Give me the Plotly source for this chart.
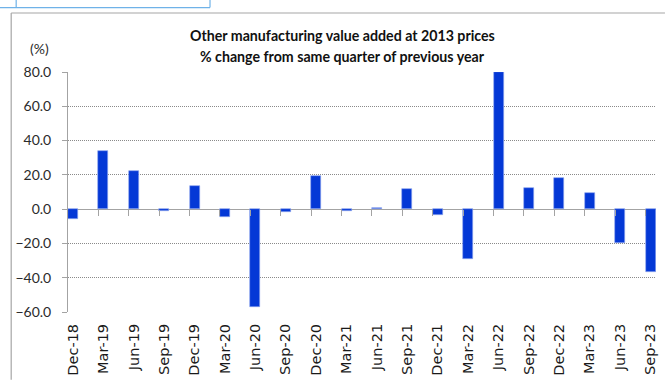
import plotly.graph_objects as go

# Quarterly growth of other manufacturing value added (2013 prices), % y/y
quarters = ["Dec-18", "Mar-19", "Jun-19", "Sep-19", "Dec-19", "Mar-20", "Jun-20",
            "Sep-20", "Dec-20", "Mar-21", "Jun-21", "Sep-21", "Dec-21", "Mar-22",
            "Jun-22", "Sep-22", "Dec-22", "Mar-23", "Jun-23", "Sep-23"]
pct_change = [-5.8, 34.0, 22.3, -1.0, 13.6, -4.8, -57.3, -1.5, 19.5, -1.1,
              0.4, 11.6, -3.4, -28.8, 80.0, 12.4, 18.3, 9.6, -19.7, -36.8]
y_ticks = [-60, -40, -20, 0, 20, 40, 60, 80]

W, H = 665, 383
L, R, T, B = 68, 7, 72, 67
PW, PH = W - L - R, H - T - B
SLOT = 30.5          # pixels per quarter
BAR_W = 0.33         # bar width in category units
x0 = -BAR_W / 2
x_range = [x0, x0 + PW / SLOT]
y_range = [-60, 80]


def px(x):
    return (x - L) / PW


def py(y):
    return (H - B - y) / PH


idx = list(range(len(quarters)))
BLUE = "#0438d6"
AXIS_GREY = "#a3a3a3"

fig = go.Figure()
fig.add_trace(go.Bar(
    x=idx, y=pct_change, width=BAR_W,
    marker=dict(color=BLUE, line=dict(color="#8fa6ee", width=0.6)),
    showlegend=False, hoverinfo="skip",
))
# carrier for the category tick marks drawn along the zero line
fig.add_trace(go.Scatter(x=[], y=[], xaxis="x2", yaxis="y", showlegend=False))

fig.update_layout(
    width=W, height=H,
    margin=dict(l=L, r=R, t=T, b=B, pad=0),
    paper_bgcolor="white", plot_bgcolor="white",
    bargap=0,
    xaxis=dict(
        range=x_range, tickmode="array", tickvals=idx, ticktext=quarters,
        tickangle=-90, ticks="", showgrid=False, zeroline=False, showline=False,
        tickfont=dict(family="DejaVu Sans", size=14.5, color="#1a1a1a"),
        ticklabelstandoff=8,
    ),
    xaxis2=dict(
        overlaying="x", anchor="free",
        position=(0 - y_range[0]) / (y_range[1] - y_range[0]),
        range=x_range, tickmode="array",
        tickvals=[i + x0 for i in idx[1:]],
        ticks="outside", ticklen=6, tickwidth=1, tickcolor=AXIS_GREY,
        showticklabels=False, showgrid=False, zeroline=False, showline=False,
    ),
    yaxis=dict(
        range=y_range, tickmode="array", tickvals=y_ticks, tickformat=".1f",
        showgrid=True, gridcolor="#8a8a8a", gridwidth=1, griddash="1px,1px",
        showline=True, linecolor=AXIS_GREY, linewidth=1,
        ticks="outside", ticklen=5, tickcolor=AXIS_GREY,
        zeroline=True, zerolinecolor=AXIS_GREY, zerolinewidth=1,
        tickfont=dict(family="Lato", size=14, color="#2b2b2b"),
        ticklabelstandoff=8,
    ),
)

title_font = dict(family="Lato", size=14.2, color="#111111", weight="bold")
fig.add_annotation(text="Other manufacturing value added at 2013 prices",
                   xref="paper", yref="paper", x=px(343.5), y=py(35),
                   showarrow=False, font=title_font, xanchor="center", yanchor="middle")
fig.add_annotation(text="% change from same quarter of previous year",
                   xref="paper", yref="paper", x=px(343.5), y=py(56.5),
                   showarrow=False, font=title_font, xanchor="center", yanchor="middle")
fig.add_annotation(text="(%)", xref="paper", yref="paper", x=px(39), y=py(48),
                   showarrow=False, xanchor="center", yanchor="middle",
                   font=dict(family="Lato", size=14, color="#2b2b2b"))

# chart frame (top and left edges) and the box above it
frame = dict(color="#a6a6a6", width=1.2)
fig.add_shape(type="line", xref="paper", yref="paper",
              x0=px(11), x1=px(W + 2), y0=py(12), y1=py(12), line=frame)
fig.add_shape(type="line", xref="paper", yref="paper",
              x0=px(11), x1=px(11), y0=py(12), y1=py(H + 2), line=frame)
box = dict(color="#6fb2e8", width=1.2)
fig.add_shape(type="line", xref="paper", yref="paper",
              x0=px(-2), x1=px(210.5), y0=py(6.5), y1=py(6.5), line=box)
fig.add_shape(type="line", xref="paper", yref="paper",
              x0=px(16), x1=px(16), y0=py(-2), y1=py(6.5), line=box)
fig.add_shape(type="line", xref="paper", yref="paper",
              x0=px(210.5), x1=px(210.5), y0=py(-2), y1=py(6.5), line=box)

fig.write_html("out.html")
